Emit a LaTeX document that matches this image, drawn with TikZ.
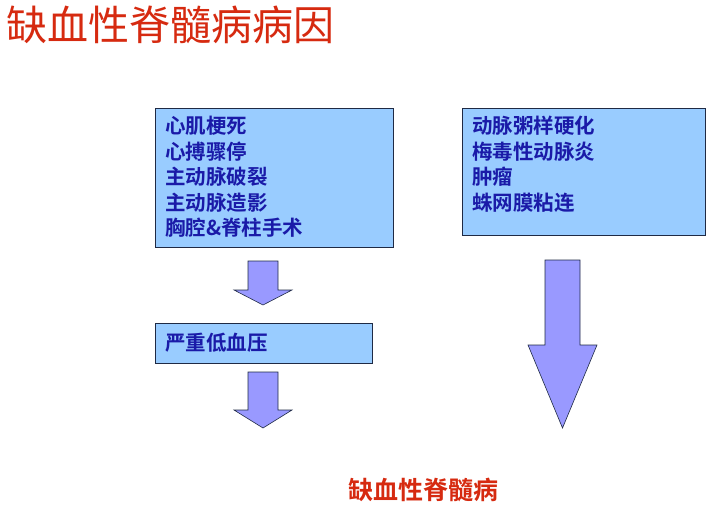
\documentclass[tikz,border=0pt]{standalone}
\usepackage{fontspec}
\newfontfamily\cjk{Noto Sans CJK SC}
\newfontfamily\cjkb{Noto Sans CJK SC Bold}
\definecolor{boxfill}{HTML}{99CCFF}
\definecolor{boxline}{HTML}{1F2A44}
\definecolor{txt}{HTML}{1A1AA8}
\definecolor{arr}{HTML}{9999FF}
\definecolor{red1}{HTML}{D62A10}
\tikzset{
 box/.style={draw=boxline,fill=boxfill,line width=1pt,anchor=north west,inner sep=0pt},
 boxtxt/.style={anchor=north west,align=left,text=txt,font=\cjkb\fontsize{20.5}{25.5}\selectfont,inner sep=0pt},
 arrshape/.style={draw=boxline,fill=arr,line width=0.6pt}
}
\begin{document}
\begin{tikzpicture}[x=1pt,y=-1pt]
\useasboundingbox (0,0) rectangle (727,522);
\node[anchor=west,text=red1,font=\cjk\fontsize{41}{46}\selectfont,inner sep=0pt] (title) at (6,25) {缺血性脊髓病病因};
\node[box,minimum width=238pt,minimum height=139pt] (b1) at (155,108) {};
\node[boxtxt] (t1) at (165,116) {心肌梗死\\心搏骤停\\主动脉破裂\\主动脉造影\\胸腔\&脊柱手术};
\node[box,minimum width=243pt,minimum height=127pt] (b2) at (462,108) {};
\node[boxtxt] (t2) at (472,116) {动脉粥样硬化\\梅毒性动脉炎\\肿瘤\\蛛网膜粘连};
\node[box,minimum width=217pt,minimum height=40pt] (b3) at (155,323) {};
\node[boxtxt,anchor=west] (t3) at (165,343) {严重低血压};
\draw[arrshape] (248,261) -- (278,261) -- (278,290) -- (292,290) -- (263,305) -- (234,290) -- (248,290) -- cycle;
\draw[arrshape] (248,372) -- (278,372) -- (278,410) -- (292,410) -- (263,428) -- (234,410) -- (248,410) -- cycle;
\draw[arrshape] (545,260) -- (580,260) -- (580,345) -- (597,345) -- (562.5,428) -- (528,345) -- (545,345) -- cycle;
\node[text=red1,font=\cjkb\fontsize{25}{28}\selectfont,inner sep=0pt] (res) at (423,490) {缺血性脊髓病};
\end{tikzpicture}
\end{document}
